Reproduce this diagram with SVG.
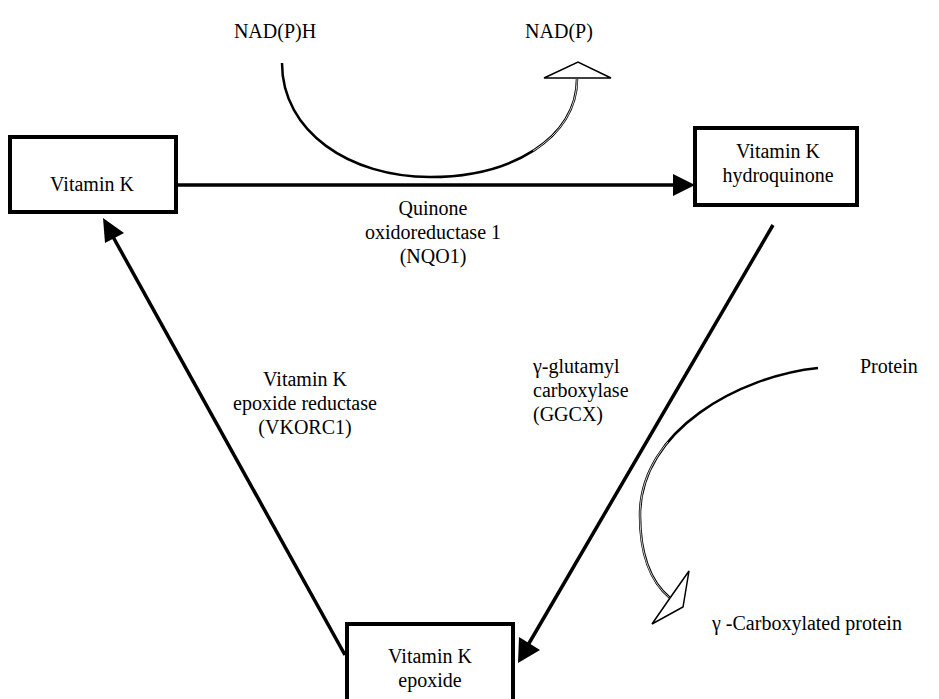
<svg xmlns="http://www.w3.org/2000/svg" width="939" height="699" viewBox="0 0 939 699">
<style>
  .box{fill:#fff;stroke:#000;stroke-width:4}
  .t{font-family:"Liberation Serif","DejaVu Serif",serif;font-size:20px;fill:#000}
  .c{text-anchor:middle}
  .ln{fill:none;stroke:#000;stroke-width:3.5}
  .cv{fill:none;stroke:#000;stroke-width:2.5}
  .cvin{fill:none;stroke:#fff;stroke-width:0.8}
  .head{fill:#000;stroke:none}
  .open{fill:#fff;stroke:#000;stroke-width:1.5;stroke-linejoin:miter}
</style>
<rect width="939" height="699" fill="#fff"/>
<g id="connectors">
  <line class="ln" x1="176" y1="185" x2="675" y2="185"/>
  <polygon class="head" points="695,185 673,174 673,196"/>
  <line class="ln" x1="345" y1="655" x2="112" y2="235"/>
  <polygon class="head" points="103,218 105,243 124,233"/>
  <line class="ln" x1="773" y1="225" x2="528" y2="645"/>
  <polygon class="head" points="518,663 519,637 540,650"/>
  <g id="nqo1-cofactor">
    <path class="cv" d="M282,63 C282,132 350,177 430,177 C512,177 577,138 577,79"/>
    <path class="cvin" pathLength="100" stroke-dasharray="0 55 45" d="M430,177 C512,177 577,138 577,79"/>
    <polygon class="open" points="544,78 578,62 611,78"/>
  </g>
  <g id="ggcx-substrate">
    <path class="cv" d="M818,368 C740,376 640,430 640,515 C640,558 652,583 670,598"/>
    <path class="cvin" pathLength="100" stroke-dasharray="0 50 50" d="M818,368 C740,376 640,430 640,515 C640,558 652,583 670,598"/>
    <polygon class="open" points="689,571 683,607 652,624 670,598"/>
  </g>
</g>
<g id="vitamin-k">
  <rect class="box" x="10" y="137" width="166" height="75"/>
  <text class="t c" x="92" y="191">Vitamin K</text>
</g>
<g id="vitamin-k-hydroquinone">
  <rect class="box" x="695" y="128" width="162" height="77"/>
  <text class="t c" x="778" y="158">Vitamin K</text>
  <text class="t c" x="778" y="182">hydroquinone</text>
</g>
<g id="vitamin-k-epoxide">
  <rect class="box" x="347" y="624" width="166" height="80"/>
  <text class="t c" x="430" y="663">Vitamin K</text>
  <text class="t c" x="430" y="687">epoxide</text>
</g>
<g id="labels">
  <text class="t c" x="275" y="38">NAD(P)H</text>
  <text class="t c" x="559" y="38">NAD(P)</text>
  <text class="t c" x="433" y="215">Quinone</text>
  <text class="t c" x="433" y="239">oxidoreductase 1</text>
  <text class="t c" x="433" y="263">(NQO1)</text>
  <text class="t c" x="305" y="386">Vitamin K</text>
  <text class="t c" x="305" y="410">epoxide reductase</text>
  <text class="t c" x="305" y="434">(VKORC1)</text>
  <text class="t" x="533" y="373">γ-glutamyl</text>
  <text class="t" x="533" y="397">carboxylase</text>
  <text class="t" x="533" y="421">(GGCX)</text>
  <text class="t" x="860" y="373">Protein</text>
  <text class="t" x="712" y="630">γ -Carboxylated protein</text>
</g>
</svg>
